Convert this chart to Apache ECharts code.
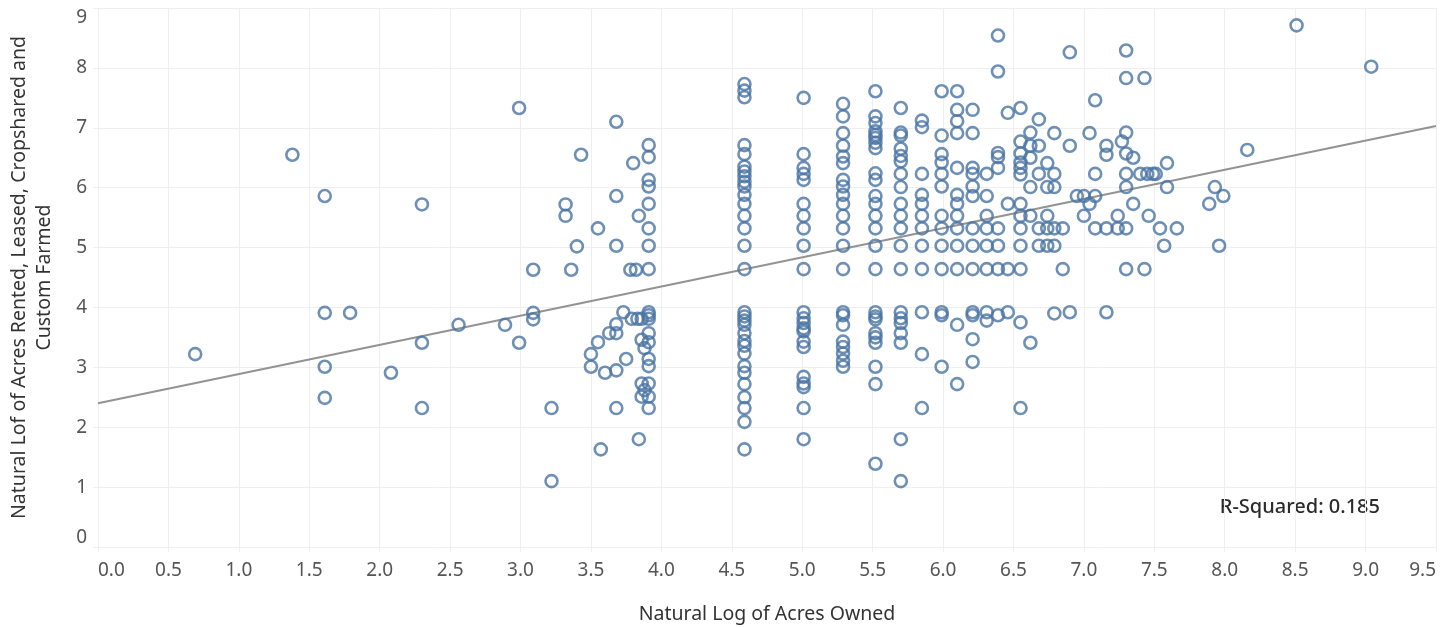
<!DOCTYPE html>
<html>
<head>
<meta charset="utf-8">
<title>Acres owned vs rented</title>
<script src="https://cdn.jsdelivr.net/npm/echarts@6.0.0/dist/echarts.min.js"></script>
<style>
  html, body { margin: 0; padding: 0; background: #ffffff; }
  #main { width: 1448px; height: 628px; }
</style>
</head>
<body>
<div id="main"></div>
<script>
  // ln(acres owned), ln(acres rented...), one x column per line
  var farms = [
    [0.69, 3.22],
    [1.38, 6.55],
    [1.61, 5.86], [1.61, 3.91], [1.61, 3.01], [1.61, 2.49],
    [1.79, 3.91],
    [2.08, 2.91],
    [2.30, 5.72], [2.30, 3.41], [2.30, 2.32],
    [2.56, 3.71],
    [2.89, 3.71],
    [2.99, 7.33], [2.99, 3.41],
    [3.09, 4.63], [3.09, 3.91], [3.09, 3.80],
    [3.22, 2.32], [3.22, 1.10],
    [3.32, 5.72], [3.32, 5.53],
    [3.36, 4.63],
    [3.40, 5.02],
    [3.43, 6.55],
    [3.50, 3.22], [3.50, 3.01],
    [3.55, 5.32], [3.55, 3.42],
    [3.57, 1.63],
    [3.60, 2.91],
    [3.63, 3.57],
    [3.68, 7.10], [3.68, 5.86], [3.68, 5.03], [3.68, 3.72], [3.68, 3.57], [3.68, 2.95], [3.68, 2.32],
    [3.73, 3.92],
    [3.75, 3.14],
    [3.78, 4.63], [3.79, 3.81],
    [3.80, 6.41],
    [3.82, 4.63], [3.83, 3.81],
    [3.84, 5.53], [3.84, 1.80],
    [3.86, 3.81], [3.86, 3.46], [3.86, 2.73], [3.86, 2.51],
    [3.88, 3.32], [3.88, 2.62],
    [3.91, 6.71], [3.91, 6.51], [3.91, 6.13], [3.91, 6.02], [3.91, 5.73], [3.91, 5.32], [3.91, 5.03], [3.91, 4.64],
    [3.91, 3.92], [3.91, 3.87], [3.91, 3.81], [3.91, 3.57], [3.91, 3.42], [3.91, 3.14], [3.91, 3.02], [3.91, 2.73],
    [3.91, 2.51], [3.91, 2.32],
    [4.59, 7.73], [4.59, 7.62], [4.59, 7.51], [4.59, 6.71], [4.59, 6.56], [4.59, 6.35], [4.59, 6.27], [4.59, 6.19],
    [4.59, 6.10], [4.59, 6.02], [4.59, 5.88], [4.59, 5.73], [4.59, 5.53], [4.59, 5.32], [4.59, 5.03], [4.59, 4.64],
    [4.59, 3.92], [4.59, 3.85], [4.59, 3.78], [4.59, 3.71], [4.59, 3.57], [4.59, 3.44], [4.59, 3.36], [4.59, 3.23],
    [4.59, 3.02], [4.59, 2.91], [4.59, 2.72], [4.59, 2.50], [4.59, 2.32], [4.59, 2.09], [4.59, 1.63],
    [5.01, 7.50], [5.01, 6.56], [5.01, 6.33], [5.01, 6.23], [5.01, 6.13], [5.01, 5.73], [5.01, 5.53], [5.01, 5.32],
    [5.01, 5.03], [5.01, 4.64], [5.01, 3.92], [5.01, 3.82], [5.01, 3.74], [5.01, 3.65], [5.01, 3.60], [5.01, 3.43],
    [5.01, 3.34], [5.01, 2.84], [5.01, 2.73], [5.01, 2.67], [5.01, 2.32], [5.01, 1.80],
    [5.29, 7.40], [5.29, 7.19], [5.29, 6.91], [5.29, 6.70], [5.29, 6.52], [5.29, 6.41], [5.29, 6.13], [5.29, 6.02],
    [5.29, 5.88], [5.29, 5.73], [5.29, 5.53], [5.29, 5.32], [5.29, 5.03], [5.29, 4.64], [5.29, 3.92], [5.29, 3.87],
    [5.29, 3.71], [5.29, 3.43], [5.29, 3.34], [5.29, 3.23], [5.29, 3.11], [5.29, 3.01],
    [5.52, 7.61], [5.52, 7.19], [5.52, 7.08], [5.52, 6.94], [5.52, 6.88], [5.52, 6.83], [5.52, 6.75], [5.52, 6.66],
    [5.52, 6.24], [5.52, 6.13], [5.52, 5.86], [5.52, 5.73], [5.52, 5.53], [5.52, 5.32], [5.52, 5.03], [5.52, 4.64],
    [5.52, 3.92], [5.52, 3.85], [5.52, 3.80], [5.52, 3.57], [5.52, 3.50], [5.52, 3.41], [5.52, 3.01], [5.52, 2.72],
    [5.52, 1.39],
    [5.70, 7.33], [5.70, 6.92], [5.70, 6.87], [5.70, 6.65], [5.70, 6.53], [5.70, 6.44], [5.70, 6.23], [5.70, 6.01],
    [5.70, 5.73], [5.70, 5.53], [5.70, 5.32], [5.70, 5.03], [5.70, 4.64], [5.70, 3.92], [5.70, 3.82], [5.70, 3.74],
    [5.70, 3.57], [5.70, 3.41], [5.70, 1.80], [5.70, 1.10],
    [5.85, 7.12], [5.85, 7.01], [5.85, 6.23], [5.85, 5.88], [5.85, 5.73], [5.85, 5.53], [5.85, 5.32], [5.85, 5.03],
    [5.85, 4.64], [5.85, 3.92], [5.85, 3.22], [5.85, 2.32],
    [5.99, 7.61], [5.99, 6.87], [5.99, 6.56], [5.99, 6.42], [5.99, 6.23], [5.99, 6.02], [5.99, 5.53], [5.99, 5.32],
    [5.99, 5.03], [5.99, 4.64], [5.99, 3.92], [5.99, 3.87], [5.99, 3.01],
    [6.10, 7.61], [6.10, 7.30], [6.10, 7.11], [6.10, 6.91], [6.10, 6.33], [6.10, 5.88], [6.10, 5.73], [6.10, 5.53],
    [6.10, 5.32], [6.10, 5.03], [6.10, 4.64], [6.10, 3.71], [6.10, 2.72],
    [6.21, 7.30], [6.21, 6.91], [6.21, 6.33], [6.21, 6.23], [6.21, 6.02], [6.21, 5.86], [6.21, 5.32], [6.21, 5.03],
    [6.21, 4.64], [6.21, 3.92], [6.21, 3.87], [6.21, 3.47], [6.21, 3.09],
    [6.31, 6.23], [6.31, 5.86], [6.31, 5.53], [6.31, 5.32], [6.31, 5.03], [6.31, 4.64], [6.31, 3.92], [6.31, 3.78],
    [6.39, 8.54], [6.39, 7.94], [6.39, 6.58], [6.39, 6.51], [6.39, 6.33], [6.39, 5.32], [6.39, 5.03], [6.39, 4.64],
    [6.39, 3.87],
    [6.46, 7.25], [6.46, 5.73], [6.46, 4.64], [6.46, 3.92],
    [6.55, 7.33], [6.55, 6.77], [6.55, 6.57], [6.55, 6.42], [6.55, 6.33], [6.55, 6.22], [6.55, 5.73], [6.55, 5.53],
    [6.55, 5.32], [6.55, 5.03], [6.55, 4.64], [6.55, 3.75], [6.55, 2.32],
    [6.62, 6.92], [6.62, 6.70], [6.62, 6.50], [6.62, 6.01], [6.62, 5.53], [6.62, 3.41],
    [6.68, 7.14], [6.68, 6.70], [6.68, 6.23], [6.68, 5.32], [6.68, 5.03],
    [6.74, 6.41], [6.74, 6.01], [6.74, 5.53], [6.74, 5.32], [6.74, 5.03],
    [6.79, 6.91], [6.79, 6.23], [6.79, 6.01], [6.79, 5.32], [6.79, 5.03], [6.79, 3.90],
    [6.85, 5.32], [6.85, 4.64],
    [6.90, 8.26], [6.90, 6.70], [6.90, 3.92],
    [6.95, 5.86],
    [7.00, 5.86], [7.00, 5.53],
    [7.04, 6.91], [7.04, 5.73],
    [7.08, 7.46], [7.08, 6.23], [7.08, 5.86], [7.08, 5.32],
    [7.16, 6.70], [7.16, 6.55], [7.16, 5.32], [7.16, 3.92],
    [7.24, 5.53], [7.24, 5.32],
    [7.27, 6.77],
    [7.30, 8.29], [7.30, 7.83], [7.30, 6.92], [7.30, 6.57], [7.30, 6.23], [7.30, 6.01], [7.30, 5.32], [7.30, 4.64],
    [7.35, 6.50], [7.35, 5.73],
    [7.40, 6.23],
    [7.43, 7.83], [7.43, 4.64],
    [7.45, 6.23], [7.46, 5.53], [7.49, 6.23], [7.51, 6.23],
    [7.54, 5.32], [7.57, 5.03],
    [7.59, 6.41], [7.59, 6.01],
    [7.66, 5.32],
    [7.89, 5.73], [7.93, 6.01], [7.96, 5.03], [7.99, 5.86],
    [8.16, 6.63],
    [8.51, 8.71],
    [9.04, 8.02]
  ];

  // trend line end points as drawn in the picture
  var trendX = [0, 9.5];
  var trendY = [2.40, 7.03];
  var rSquared = '0.185';

  var xTitle = 'Natural Log of Acres Owned';
  var yTitle = 'Natural Lof of Acres Rented, Leased, Cropshared and\nCustom Farmed';

  var gridColor = '#efefef';
  var markColor = '#4a74a3';
  var fontName = 'Noto Sans';

  var chart = echarts.init(document.getElementById('main'), null, {renderer: 'canvas'});

  var option = {
    animation: false,
    grid: {left: 98, right: 12, top: 8, bottom: 81, outerBoundsMode: 'none', containLabel: false},
    xAxis: {
      type: 'value',
      min: 0,
      max: 9.5,
      interval: 0.5,
      name: xTitle,
      nameLocation: 'middle',
      nameGap: 57,
      nameTextStyle: {fontFamily: fontName, fontSize: 19.5, color: '#333333'},
      axisLine: {show: false},
      axisTick: {show: true, length: 5, lineStyle: {color: gridColor}},
      splitLine: {show: true, lineStyle: {color: gridColor, width: 1}},
      axisLabel: {
        fontFamily: fontName,
        fontSize: 19,
        color: '#555555',
        margin: 14,
        alignMinLabel: 'left',
        alignMaxLabel: 'right',
        formatter: function (v) {
          return v.toFixed(1);
        }
      }
    },
    yAxis: {
      type: 'value',
      min: 0,
      max: 9,
      interval: 1,
      name: yTitle,
      nameLocation: 'middle',
      nameRotate: 90,
      nameGap: 41,
      nameTextStyle: {fontFamily: fontName, fontSize: 19.5, color: '#333333', lineHeight: 25},
      axisLine: {show: false},
      axisTick: {show: true, length: 5, lineStyle: {color: gridColor}},
      splitLine: {show: true, lineStyle: {color: gridColor, width: 1}},
      axisLabel: {
        fontFamily: fontName,
        fontSize: 19,
        color: '#555555',
        margin: 11,
        verticalAlignMinLabel: 'bottom',
        verticalAlignMaxLabel: 'top'
      }
    },
    graphic: [{
      type: 'text',
      right: 68,
      top: 497,
      style: {
        text: 'R-Squared: ' + rSquared,
        fill: '#2b2b2b',
        font: '500 20px "' + fontName + '"'
      }
    }],
    series: [
      {
        type: 'line',
        data: [[trendX[0], trendY[0]], [trendX[1], trendY[1]]],
        symbol: 'none',
        silent: true,
        z: 1,
        lineStyle: {color: '#939393', width: 2}
      },
      {
        type: 'scatter',
        data: farms,
        symbol: 'circle',
        symbolSize: 12,
        z: 2,
        itemStyle: {
          color: 'rgba(0,0,0,0)',
          borderColor: markColor,
          borderWidth: 2.6
        }
      }
    ]
  };

  chart.setOption(option);
</script>
</body>
</html>
